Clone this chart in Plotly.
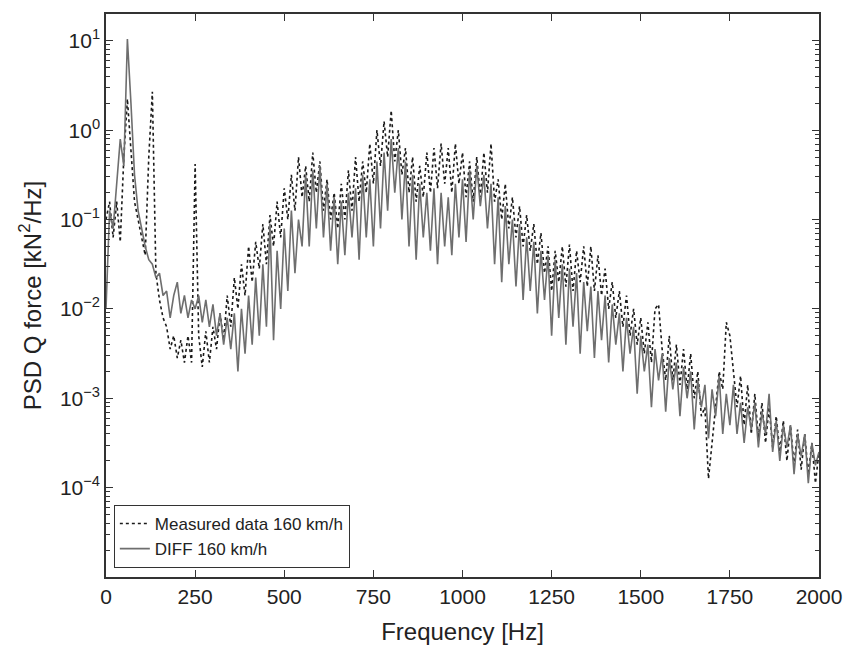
import numpy as np
import plotly.graph_objects as go

# Frequency grid (Hz), 10 Hz resolution
freq = list(range(0, 2001, 10))

# log10 of PSD values (kN^2/Hz)
measured_log10 = [
    -1.0, -0.8, -1.2, -0.8, -1.25, -0.3, 0.35, -0.2, -0.8, -1.0,      # 0-90
    -1.2, -1.4, -0.3, 0.43, -1.6, -1.9, -2.1, -2.2, -2.45, -2.3,      # 100-190
    -2.55, -2.35, -2.6, -2.3, -2.6, -0.38, -2.3, -2.65, -2.25, -2.6,  # 200-290
    -2.2, -2.45, -2.05, -2.35, -1.85, -2.2, -1.65, -2.0, -1.5, -1.85,  # 300-390
    -1.3, -1.7, -1.25, -1.55, -1.05, -1.5, -0.95, -1.3, -0.8, -1.2,    # 400-490
    -0.65, -1.0, -0.5, -0.9, -0.3, -0.75, -0.4, -0.8, -0.25, -0.7,     # 500-590
    -0.35, -0.9, -0.55, -1.0, -0.7, -1.1, -0.6, -1.0, -0.45, -0.9,     # 600-690
    -0.3, -0.8, -0.35, -0.7, -0.15, -0.6, 0.0, -0.4, 0.1, -0.3,        # 700-790
    0.22, -0.35, 0.0, -0.5, -0.2, -0.7, -0.3, -0.8, -0.4, -0.75,       # 800-890
    -0.25, -0.7, -0.2, -0.65, -0.15, -0.6, -0.2, -0.7, -0.15, -0.6,    # 900-990
    -0.25, -0.75, -0.35, -0.8, -0.3, -0.75, -0.25, -0.7, -0.15, -0.8,  # 1000-1090
    -0.55, -1.0, -0.6, -1.1, -0.75, -1.2, -0.85, -1.3, -0.95, -1.35,   # 1100-1190
    -1.05, -1.5, -1.15, -1.6, -1.3, -1.8, -1.35, -1.7, -1.3, -1.75,    # 1200-1290
    -1.28, -1.8, -1.35, -1.7, -1.3, -1.75, -1.3, -1.8, -1.4, -1.85,    # 1300-1390
    -1.55, -2.0, -1.7, -2.1, -1.8, -2.2, -1.85, -2.3, -2.0, -2.4,      # 1400-1490
    -2.1, -2.5, -2.15, -2.6, -2.0, -1.95, -2.45, -2.8, -2.3, -2.8,     # 1500-1590
    -2.4, -2.85, -2.45, -2.9, -2.5, -3.0, -2.7, -3.2, -3.1, -3.9,      # 1600-1690
    -3.5, -3.1, -2.7, -2.9, -2.15, -2.3, -2.7, -3.1, -2.75, -3.3,      # 1700-1790
    -2.85, -3.4, -2.95, -3.45, -3.05, -3.5, -3.1, -3.55, -3.2, -3.6,   # 1800-1890
    -3.25, -3.7, -3.3, -3.75, -3.35, -3.8, -3.4, -3.85, -3.5, -3.95,   # 1900-1990
    -3.6,                                                               # 2000
]

diff_log10 = [
    -2.0, -0.9, -1.1, -0.6, -0.1, -0.4, 1.02, 0.3, -0.5, -0.9,         # 0-90
    -1.1, -1.3, -1.45, -1.5, -1.65, -1.6, -1.85, -1.8, -2.1, -1.85,    # 100-190
    -1.7, -2.05, -1.85, -2.1, -1.9, -2.0, -1.85, -2.15, -1.9, -2.2,    # 200-290
    -1.95, -2.3, -2.05, -2.4, -2.1, -2.45, -2.05, -2.7, -2.0, -2.5,    # 300-390
    -1.85, -2.4, -1.65, -2.3, -1.5, -2.2, -1.05, -2.35, -1.35, -2.0,   # 400-490
    -1.1, -1.8, -0.9, -1.6, -1.0, -1.3, -0.5, -1.3, -0.45, -1.1,       # 500-590
    -0.4, -1.2, -0.6, -1.35, -0.75, -1.5, -0.8, -1.4, -0.7, -1.2,      # 600-690
    -0.65, -1.45, -0.5, -1.2, -0.55, -1.3, -0.35, -1.1, -0.25, -0.9,   # 700-790
    -0.1, -0.7, -0.2, -1.0, -0.35, -1.3, -0.5, -1.45, -0.6, -1.2,      # 800-890
    -0.7, -1.35, -0.65, -1.5, -0.7, -1.3, -0.75, -1.4, -0.6, -1.2,     # 900-990
    -0.55, -1.25, -0.45, -1.0, -0.4, -0.85, -0.5, -1.1, -0.6, -1.5,    # 1000-1090
    -0.75, -1.7, -0.85, -1.5, -1.0, -1.75, -1.05, -1.9, -1.2, -1.8,    # 1100-1190
    -1.25, -2.05, -1.35, -1.9, -1.4, -2.3, -1.45, -2.1, -1.5, -2.4,    # 1200-1290
    -1.55, -2.2, -1.6, -2.5, -1.7, -2.25, -1.75, -2.55, -1.8, -2.35,   # 1300-1390
    -1.85, -2.6, -1.95, -2.4, -2.05, -2.7, -2.1, -2.5, -2.2, -2.95,    # 1400-1490
    -2.3, -2.7, -2.4, -3.1, -2.45, -2.8, -2.5, -3.15, -2.55, -2.9,     # 1500-1590
    -2.6, -3.2, -2.65, -3.0, -2.7, -3.35, -2.8, -3.1, -2.85, -3.45,    # 1600-1690
    -2.9, -3.2, -2.75, -3.4, -2.95, -3.3, -2.85, -3.4, -3.05, -3.5,    # 1700-1790
    -3.1, -3.35, -3.05, -3.55, -3.15, -3.4, -2.95, -3.6, -3.25, -3.7,  # 1800-1890
    -3.3, -3.55, -3.3, -3.85, -3.4, -3.65, -3.4, -3.95, -3.5, -3.75,   # 1900-1990
    -3.6,                                                               # 2000
]

measured_psd = np.power(10.0, np.array(measured_log10))
diff_psd = np.power(10.0, np.array(diff_log10))

x_ticks = [0, 250, 500, 750, 1000, 1250, 1500, 1750, 2000]
y_ticks = [1e-4, 1e-3, 1e-2, 1e-1, 1e0, 1e1]
y_tick_text = ["10<sup>−4</sup>", "10<sup>−3</sup>", "10<sup>−2</sup>",
               "10<sup>−1</sup>", "10<sup>0</sup>", "10<sup>1</sup>"]
y_minor = [m * 10.0 ** e for e in range(-5, 2) for m in range(2, 10)]

FONT = "Liberation Sans, Arial, Helvetica, sans-serif"

fig = go.Figure()
fig.add_trace(go.Scatter(
    x=freq, y=measured_psd, mode="lines", name="Measured data 160 km/h",
    line=dict(color="#1a1a1a", width=1.6, dash="dot"),
))
fig.add_trace(go.Scatter(
    x=freq, y=diff_psd, mode="lines", name="DIFF 160 km/h",
    line=dict(color="#6e6e6e", width=1.6),
))

fig.update_layout(
    width=853, height=652,
    margin=dict(l=106, r=34, t=14, b=75),
    paper_bgcolor="white", plot_bgcolor="white",
    font=dict(family=FONT, color="#222", size=20),
    showlegend=True,
    legend=dict(
        x=0.011, y=0.016, xanchor="left", yanchor="bottom",
        bgcolor="white", bordercolor="#333", borderwidth=1,
        font=dict(family=FONT, size=17, color="#222"),
        tracegroupgap=0, itemwidth=30,
    ),
    xaxis=dict(
        range=[0, 2000], tickmode="array", tickvals=x_ticks,
        ticks="inside", ticklen=7, tickcolor="#333",
        showline=True, linecolor="#333", linewidth=1.5, mirror="ticks",
        showgrid=False, zeroline=False,
        tickfont=dict(family=FONT, size=21, color="#222"),
        title=dict(text="Frequency [Hz]", font=dict(family=FONT, size=24, color="#222"),
                   standoff=16),
    ),
    yaxis=dict(
        type="log", range=[-5, 1.3], tickmode="array",
        tickvals=y_ticks, ticktext=y_tick_text,
        ticks="inside", ticklen=7, tickcolor="#333",
        minor=dict(tickmode="array", tickvals=y_minor, ticks="inside",
                   ticklen=4, tickcolor="#333", showgrid=False),
        showline=True, linecolor="#333", linewidth=1.5, mirror="ticks",
        showgrid=False, zeroline=False,
        tickfont=dict(family=FONT, size=21, color="#222"),
        title=dict(text="PSD Q force [kN<sup>2</sup>/Hz]",
                   font=dict(family=FONT, size=24, color="#222"), standoff=12),
    ),
)

fig.write_html("out.html")
